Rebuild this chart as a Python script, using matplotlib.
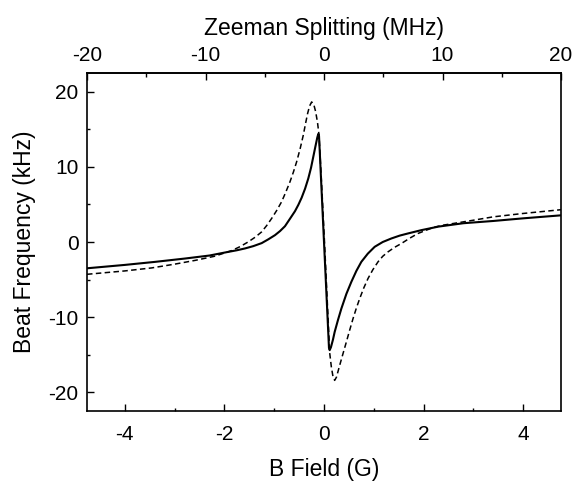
import matplotlib
matplotlib.use("Agg")
import matplotlib.pyplot as plt
from matplotlib.ticker import FixedLocator

plt.rcParams['font.family'] = ['Liberation Sans', 'DejaVu Sans']

# Solid curve (B field in G, beat frequency in kHz)
solid_x = [-4.76, -4.0, -3.4, -2.79, -2.3, -1.99, -1.75, -1.588, -1.42, -1.252,
           -1.12, -0.985, -0.884, -0.784, -0.683, -0.583, -0.515, -0.449, -0.38, -0.315,
           -0.26, -0.215, -0.17, -0.135, -0.114, -0.1, 0.1, 0.114, 0.14, 0.18,
           0.214, 0.28, 0.349, 0.45, 0.549, 0.65,
           0.75, 0.88, 1.018, 1.18, 1.353, 1.52, 1.688, 1.956, 2.3, 2.8,
           3.4, 4.0, 4.76]
solid_y = [-3.5, -3.05, -2.65, -2.2, -1.8, -1.4, -1.1, -0.86, -0.55, -0.15,
           0.35, 0.91, 1.45, 2.1, 3.1, 4.1, 4.95, 5.9, 7.1, 8.47,
           9.9, 11.35, 12.8, 13.9, 14.4, 14.1, -14.1, -14.4, -14.0, -13.0,
           -11.98, -10.4, -8.86, -6.9, -5.31, -3.85,
           -2.64, -1.55, -0.64, 0.0, 0.47, 0.85, 1.14, 1.58, 2.05, 2.5,
           2.8, 3.15, 3.55]

# Dashed curve
dash_x = [-4.76, -4.0, -3.46, -3.0, -2.59, -2.2, -1.856, -1.68, -1.521, -1.38,
          -1.252, -1.15, -1.052, -0.95, -0.851, -0.77, -0.683, -0.615, -0.549, -0.48,
          -0.415, -0.37, -0.328, -0.29, -0.248, -0.205, -0.168, -0.13, -0.1, -0.05,
          0.01, 0.07, 0.115, 0.147, 0.18, 0.214, 0.25, 0.315, 0.38, 0.449,
          0.515, 0.583, 0.65, 0.717, 0.8, 0.884, 0.98, 1.085, 1.18, 1.286,
          1.42, 1.554, 1.72, 1.889, 2.2, 2.4, 3.0, 3.4, 4.0, 4.76]
dash_y = [-4.3, -3.85, -3.45, -2.95, -2.45, -1.9, -1.15, -0.6, 0.02, 0.65,
          1.35, 2.2, 3.13, 4.2, 5.36, 6.6, 8.02, 9.3, 10.69, 12.4,
          14.25, 15.8, 17.14, 18.1, 18.65, 18.3, 17.36, 15.9, 14.25, 8.0,
          0.0, -8.5, -14.8, -16.6, -17.9, -18.42, -18.0, -16.42, -14.9, -13.31,
          -11.75, -10.2, -8.8, -7.53, -6.1, -4.86, -3.7, -2.64, -1.9, -1.31,
          -0.7, -0.2, 0.5, 1.14, 1.95, 2.25, 2.9, 3.35, 3.8, 4.3]

bottom_ticks = [-4, -2, 0, 2, 4]
top_ticks = [-20, -10, 0, 10, 20]
y_ticks = [-20, -10, 0, 10, 20]

x_range = 4.76
mhz_range = 20.0

fig = plt.figure(figsize=(5.74, 4.83), dpi=100)
ax = fig.add_axes([87/574, 1 - 411/483, (561-87)/574, (411-73)/483])

ax.plot(solid_x, solid_y, color='black', lw=1.5, solid_joinstyle='round')
ax.plot(dash_x, dash_y, color='black', lw=1.1, linestyle=(0, (3.6, 2.2)))

ax.set_xlim(-x_range, x_range)
ax.set_ylim(-22.5, 22.5)

ax.xaxis.set_major_locator(FixedLocator(bottom_ticks))
ax.xaxis.set_minor_locator(FixedLocator([-3, -1, 1, 3]))
ax.yaxis.set_major_locator(FixedLocator(y_ticks))
ax.yaxis.set_minor_locator(FixedLocator([-15, -5, 5, 15]))
ax.tick_params(which='both', direction='in', top=False, right=False,
               labelsize=15, width=1.0, colors='black')
ax.tick_params(axis='x', pad=10)
ax.tick_params(axis='y', pad=6)
ax.tick_params(which='major', length=5)
ax.tick_params(which='minor', length=2.5)

ax.xaxis.set_major_formatter(plt.FuncFormatter(lambda v, p: f"{v:g}"))
ax.yaxis.set_major_formatter(plt.FuncFormatter(lambda v, p: f"{v:g}"))

for s in ax.spines.values():
    s.set_linewidth(1.2)

ax.set_xlabel('B Field (G)', fontsize=16.5, labelpad=10.5)
ax.set_ylabel('Beat Frequency (kHz)', fontsize=16.5, labelpad=9)

sec = ax.secondary_xaxis('top', functions=(lambda b: b * mhz_range / x_range,
                                            lambda m: m * x_range / mhz_range))
sec.xaxis.set_major_locator(FixedLocator(top_ticks))
sec.xaxis.set_minor_locator(FixedLocator([-15, -5, 5, 15]))
sec.tick_params(which='both', direction='in', labelsize=15, width=1.0, pad=6)
sec.tick_params(which='major', length=5)
sec.tick_params(which='minor', length=3)
sec.xaxis.set_major_formatter(plt.FuncFormatter(lambda v, p: f"{v:g}"))
sec.set_xlabel('Zeeman Splitting (MHz)', fontsize=16.5, labelpad=8)
sec.spines['top'].set_linewidth(1.2)

fig.savefig('out.png', dpi=100, facecolor='white')
